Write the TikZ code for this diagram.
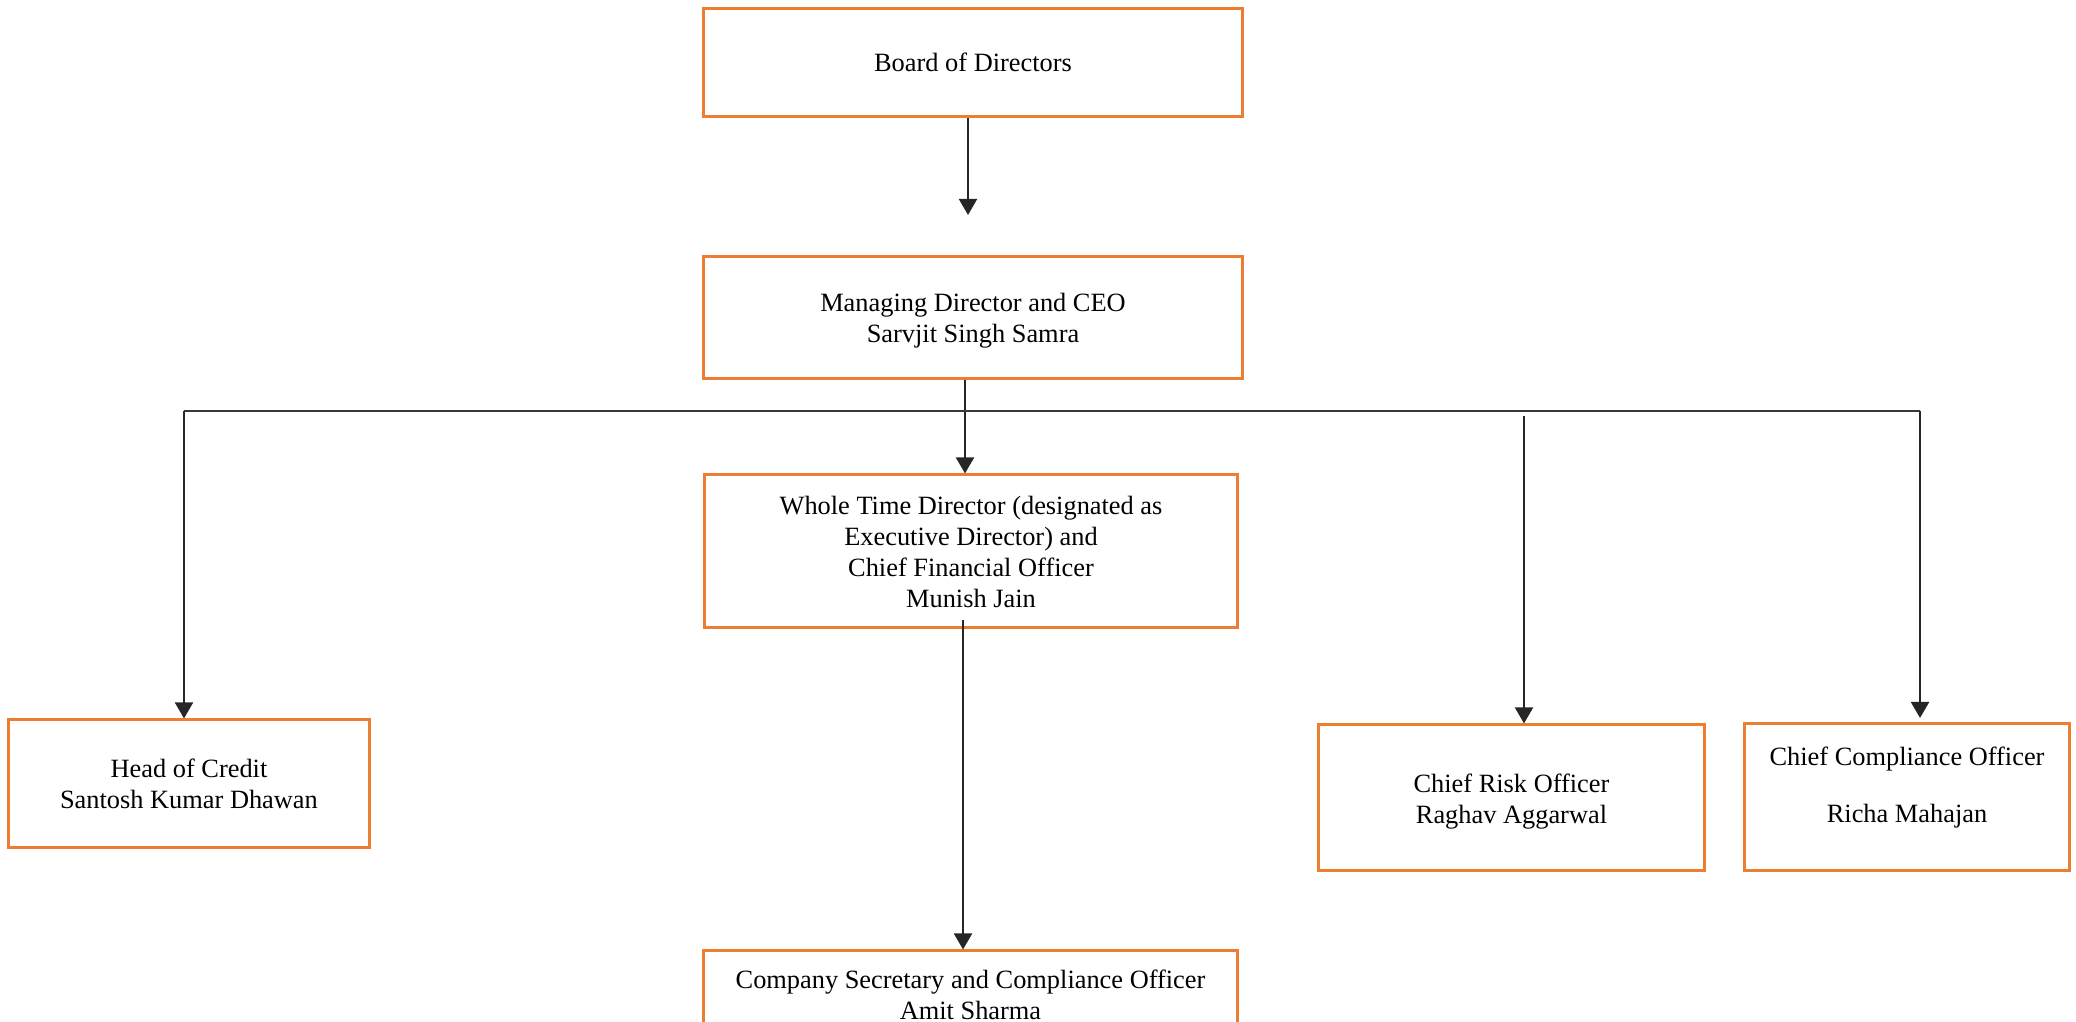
\documentclass[tikz,border=0pt]{standalone}
\usepackage{fontspec}
\setmainfont{Liberation Serif}
\usetikzlibrary{arrows.meta}

\begin{document}
\begin{tikzpicture}[x=0.01cm,y=-0.01cm,
  post/.style={draw=postOrange,line width=0.85pt,inner sep=0pt},
  posttext/.style={align=center,inner sep=0pt,font=\fontsize{7.5}{8.73}\selectfont},
  link/.style={draw=black!85,line width=0.55pt,-{Triangle[width=0.18cm,length=0.16cm]}}]
\definecolor{postOrange}{HTML}{ED7D31}
\clip (0,0) rectangle (2076,1022);
% boxes: name/centre x/centre y/width/height/text shift/text
\foreach \nm/\cx/\cy/\w/\h/\dy/\txt in {
  board/973/62.5/5.38/1.07/0/{Board of Directors},
  md/973/317.5/5.38/1.21/3.5/{Managing Director and CEO\\Sarvjit Singh Samra},
  wtd/971/551/5.32/1.52/1/{Whole Time Director (designated as\\Executive Director) and\\Chief Financial Officer\\Munish Jain},
  hoc/189/783.5/3.60/1.27/0.5/{Head of Credit\\Santosh Kumar Dhawan},
  cro/1511.5/797.5/3.85/1.45/4/{Chief Risk Officer\\Raghav Aggarwal},
  cco/1907/797/3.24/1.46/-9.5/{Chief Compliance Officer\\[0.26cm]Richa Mahajan},
  cs/970.5/995/5.33/0.88/0/{Company Secretary and Compliance Officer\\Amit Sharma}} {
  \node[post,minimum width=\w cm,minimum height=\h cm] (\nm) at (\cx,\cy) {};
  \node[posttext] (\nm-t) at (\cx,\cy+\dy) {\txt};
}
\coordinate (mdIn) at (968,215);
\coordinate (tapMD) at (965,411);
\coordinate (busL) at (184,411);
\coordinate (busR) at (1920,411);
\coordinate (croTop) at (1524,416);
\coordinate (ccoIn) at (1920,718);
\coordinate (wtdOut) at (963,620);
\draw[link] (board.south -| mdIn) -- (mdIn);
\draw[link] (md.south -| tapMD) -- (wtd.north -| tapMD);
\draw[draw=black!78,line width=0.55pt] (busL) -- (busR);
\draw[link] (busL) -- (hoc.north -| busL);
\draw[link] (croTop) -- (cro.north -| croTop);
\draw[link] (busR) -- (ccoIn);
\draw[link] (wtdOut) -- (cs.north -| wtdOut);
\end{tikzpicture}
\end{document}
